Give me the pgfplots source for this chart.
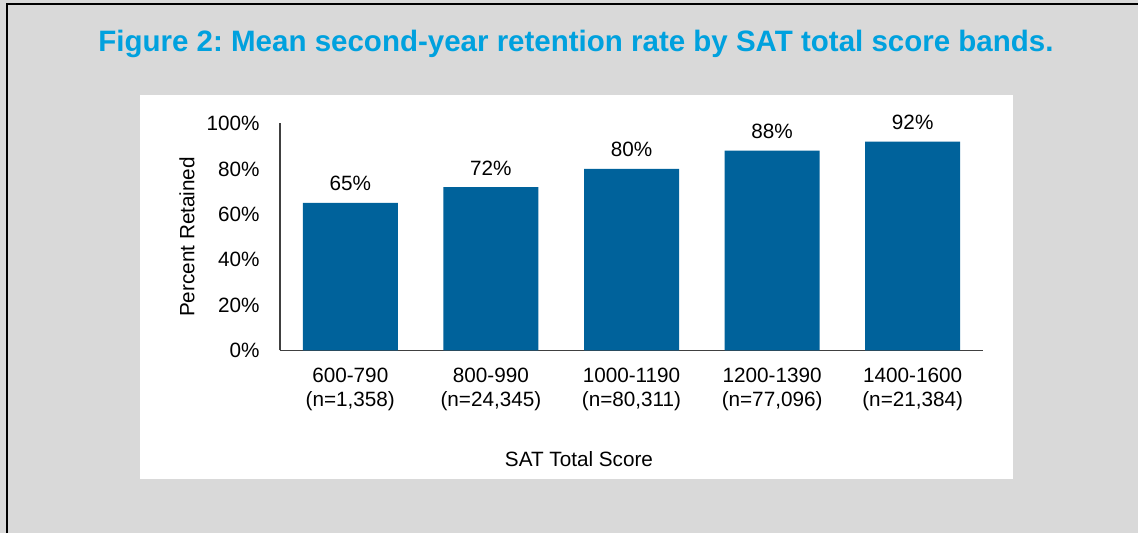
\documentclass[border=0pt]{standalone}
\usepackage{fontspec}
\setmainfont{Liberation Sans}
\usepackage{pgfplots}
\pgfplotsset{compat=1.18}
\definecolor{bggray}{HTML}{D9D9D9}
\definecolor{titleblue}{HTML}{00A1DE}
\definecolor{barblue}{HTML}{00629B}
\newcommand{\lblfont}{\fontsize{20.7}{24}\selectfont}
\frenchspacing
\begin{document}
\begin{tikzpicture}[x=1pt,y=1pt]
  \useasboundingbox (0,0) rectangle (1138,533);
  % page background, frame and white panel
  \fill[bggray] (0,0) rectangle (1138,533);
  \draw[line width=2pt] (7,0) -- (7,529) -- (1138,529);
  \fill[white] (140,54) rectangle (1013,438);
  \node[anchor=base, text=titleblue, font=\fontsize{29.5}{35}\selectfont\bfseries]
    at (576,481) {Figure 2: Mean second-year retention rate by SAT total score bands.};

  \begin{axis}[
    at={(280pt,182.5pt)}, anchor=south west,
    scale only axis, width=703pt, height=227pt,
    ybar, bar width=95pt,
    xmin=-0.5, xmax=4.5, ymin=0, ymax=100,
    xtick=data,
    xticklabels={{600-790\\(n=1,358)}, {800-990\\(n=24,345)}, {1000-1190\\(n=80,311)},
                 {1200-1390\\(n=77,096)}, {1400-1600\\(n=21,384)}},
    ytick={0,20,...,100},
    yticklabel={\pgfmathprintnumber{\tick}\%},
    /pgf/number format/assume math mode=true,
    axis x line*=bottom, axis y line*=left,
    axis line style={-, draw=black!75, line width=1.5pt},
    major tick length=0pt,
    ticklabel style={font=\lblfont, text=black},
    xticklabel style={align=center, yshift=-14pt},
    yticklabel style={xshift=-17pt},
    nodes near coords={\pgfmathprintnumber{\pgfplotspointmeta}\%},
    every node near coord/.append style={font=\lblfont, text=black, yshift=8.3pt},
    ylabel={Percent Retained},
    ylabel style={at={(axis description cs:0,0.5)}, anchor=center, yshift=93pt, font=\lblfont},
    xlabel={SAT Total Score},
    xlabel style={at={(axis description cs:0.4253,0)}, anchor=base, yshift=-116.2pt, font=\lblfont},
  ]
    \addplot[fill=barblue, draw=none] coordinates {(0,65) (1,72) (2,80) (3,88) (4,92)};
  \end{axis}
\end{tikzpicture}
\end{document}
